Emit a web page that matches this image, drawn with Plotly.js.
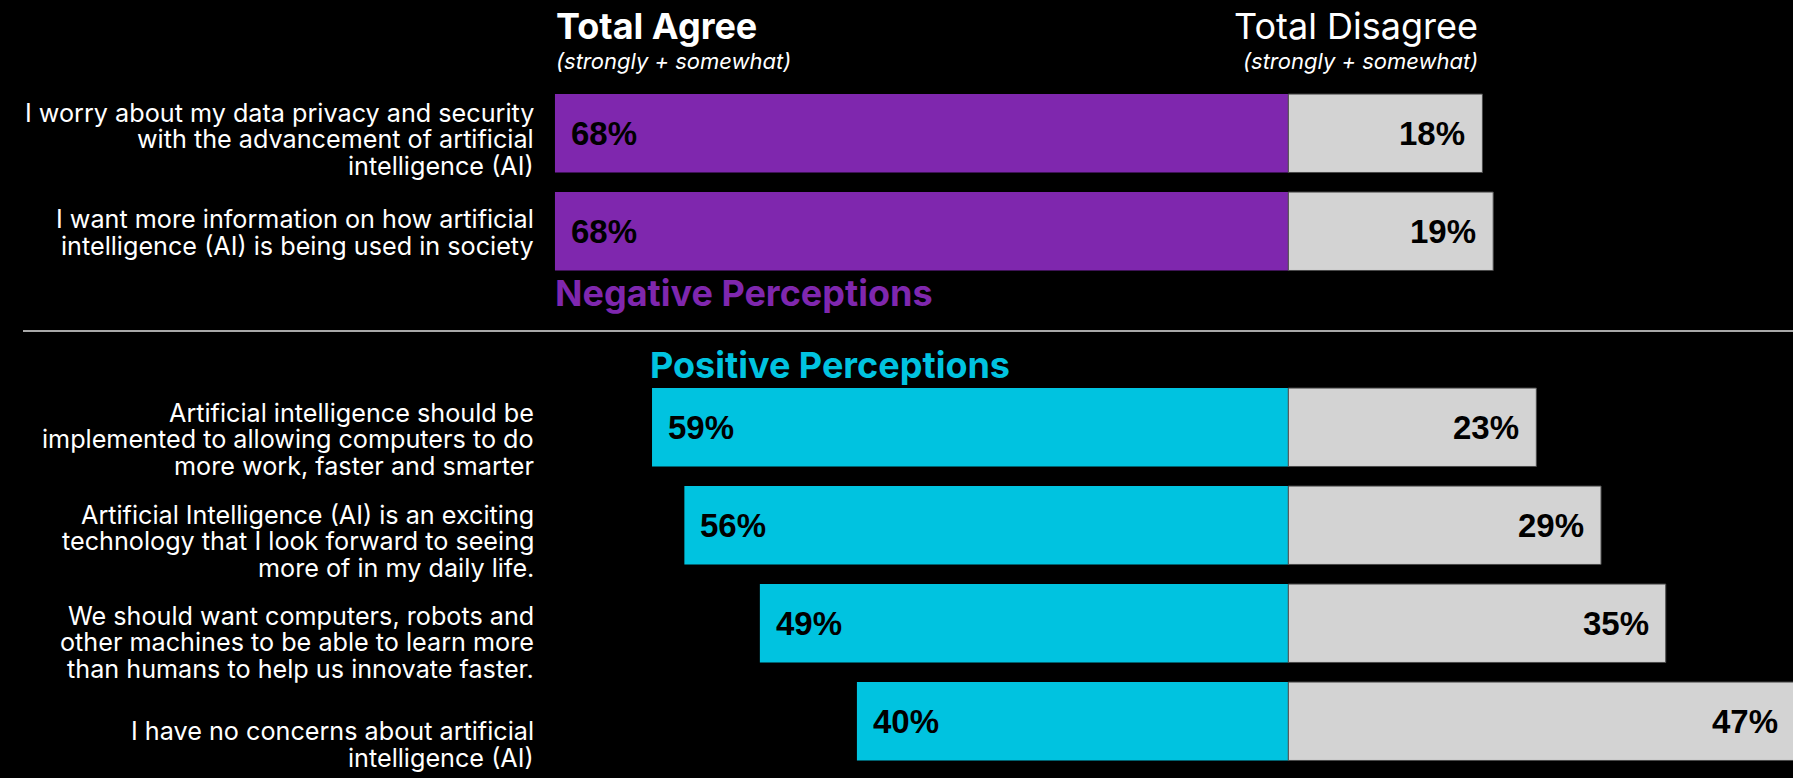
<!DOCTYPE html>
<html>
<head>
<meta charset="utf-8">
<script src="https://cdn.plot.ly/plotly-3.0.1.min.js"></script>
<style>
  html, body { margin: 0; padding: 0; background: #000; }
  #chart { width: 1793px; height: 778px; }
</style>
</head>
<body>
<div id="chart"></div>
<script>
// ---- data ----
const statements = [
  "I worry about my data privacy and security<br>with the advancement of artificial<br>intelligence (AI)",
  "I want more information on how artificial<br>intelligence (AI) is being used in society",
  "Artificial intelligence should be<br>implemented to allowing computers to do<br>more work, faster and smarter",
  "Artificial Intelligence (AI) is an exciting<br>technology that I look forward to seeing<br>more of in my daily life.",
  "We should want computers, robots and<br>other machines to be able to learn more<br>than humans to help us innovate faster.",
  "I have no concerns about artificial<br>intelligence (AI)"
];
const groups = ["Negative", "Negative", "Positive", "Positive", "Positive", "Positive"];
const totalAgree = [68, 68, 59, 56, 49, 40];
const totalDisagree = [18, 19, 23, 29, 35, 47];
const groupTitles = { Negative: "Negative Perceptions", Positive: "Positive Perceptions" };
const headerAgree = "Total Agree";
const headerDisagree = "Total Disagree";
const headerSub = "(strongly + somewhat)";

// ---- styles ----
const W = 1793, H = 778;
const groupColors = { Negative: "#7F27AE", Positive: "#00C3E0" };
const greyColor = "#D3D3D3";
const labelFont = "Inter, 'Open Sans', sans-serif";
const valueFont = "'Liberation Sans', Arial, sans-serif";
const labelShiftPx = [6, 1, 12, 16, 19, 23];
const lineStep = 26.7;
const xRange = [-119.46, 46.80];
const yRange = [6.579, -1.360];
const toPaperX = v => (v - xRange[0]) / (xRange[1] - xRange[0]);

// positions: one empty slot between groups
const pos = [];
let p = 0;
for (let i = 0; i < groups.length; i++) {
  if (i > 0 && groups[i] !== groups[i - 1]) p += 1;
  pos.push(p);
  p += 1;
}

const traces = [
  {
    type: "bar", orientation: "h",
    y: pos, x: totalAgree.map(v => -v),
    width: 0.8,
    marker: { color: groups.map(g => groupColors[g]), line: { width: 0 } },
    hoverinfo: "skip", showlegend: false
  },
  {
    type: "bar", orientation: "h",
    y: pos, x: totalDisagree,
    width: 0.8,
    marker: { color: greyColor, line: { width: 1, color: "#4a4a4a" } },
    hoverinfo: "skip", showlegend: false
  }
];

const annotations = [];
// value labels
for (let i = 0; i < pos.length; i++) {
  annotations.push({
    x: -totalAgree[i], y: pos[i], xref: "x", yref: "y",
    text: "<b>" + totalAgree[i] + "%</b>", showarrow: false,
    xanchor: "left", yanchor: "middle", xshift: 14,
    font: { family: valueFont, size: 33, color: "#000" }
  });
  annotations.push({
    x: toPaperX(totalDisagree[i]), y: pos[i], xref: "paper", yref: "y",
    text: "<b>" + totalDisagree[i] + "%</b>", showarrow: false,
    xanchor: "right", yanchor: "middle", xshift: -15,
    font: { family: valueFont, size: 33, color: "#000" }
  });
  // statement labels, one line per annotation for tight line spacing
  const lines = statements[i].split("<br>");
  const n = lines.length;
  lines.forEach((ln, j) => {
    annotations.push({
      x: 535 / W, xref: "paper", y: pos[i], yref: "y",
      text: ln, showarrow: false, xanchor: "right", yanchor: "middle",
      borderpad: 0,
      yshift: -(labelShiftPx[i] + (j - (n - 1) / 2) * lineStep),
      font: { family: labelFont, size: 25.2, color: "#fff" }
    });
  });
}
// group titles
const negIdx = groups.lastIndexOf("Negative");
const posIdx = groups.indexOf("Positive");
annotations.push({
  x: -totalAgree[negIdx], xref: "x", y: pos[negIdx], yref: "y",
  text: "<b>" + groupTitles.Negative + "</b>", showarrow: false,
  xanchor: "left", yanchor: "middle", yshift: -62, xshift: -2,
  font: { family: labelFont, size: 36, color: groupColors.Negative }
});
annotations.push({
  x: -totalAgree[posIdx], xref: "x", y: pos[posIdx], yref: "y",
  text: "<b>" + groupTitles.Positive + "</b>", showarrow: false,
  xanchor: "left", yanchor: "middle", yshift: 62, xshift: -4,
  font: { family: labelFont, size: 36, color: groupColors.Positive }
});
// headers
annotations.push({
  x: 554 / W, xref: "paper", y: 1 - 26 / H, yref: "paper",
  text: "<b>" + headerAgree + "</b>", showarrow: false, xanchor: "left", yanchor: "middle",
  font: { family: labelFont, size: 36, color: "#fff" }
});
annotations.push({
  x: 554 / W, xref: "paper", y: 1 - 61 / H, yref: "paper",
  text: "<i>" + headerSub + "</i>", showarrow: false, xanchor: "left", yanchor: "middle",
  font: { family: labelFont, size: 22, color: "#fff" }
});
annotations.push({
  x: 1480 / W, xref: "paper", y: 1 - 26 / H, yref: "paper",
  text: headerDisagree, showarrow: false, xanchor: "right", yanchor: "middle",
  font: { family: labelFont, size: 36, color: "#fff" }
});
annotations.push({
  x: 1480 / W, xref: "paper", y: 1 - 61 / H, yref: "paper",
  text: "<i>" + headerSub + "</i>", showarrow: false, xanchor: "right", yanchor: "middle",
  font: { family: labelFont, size: 22, color: "#fff" }
});

const layout = {
  width: W, height: H,
  margin: { l: 0, r: 0, t: 0, b: 0, pad: 0 },
  paper_bgcolor: "#000", plot_bgcolor: "#000",
  barmode: "relative",
  xaxis: { range: xRange, visible: false, fixedrange: true },
  yaxis: { range: yRange, visible: false, fixedrange: true },
  annotations: annotations,
  shapes: [{
    type: "line", xref: "paper", yref: "paper",
    x0: 23 / W, x1: 1, y0: 1 - 331 / H, y1: 1 - 331 / H,
    line: { color: "#e0e0e0", width: 1.5 }
  }],
  showlegend: false
};

Plotly.newPlot("chart", traces, layout, { displayModeBar: false, staticPlot: true });
</script>
</body>
</html>
